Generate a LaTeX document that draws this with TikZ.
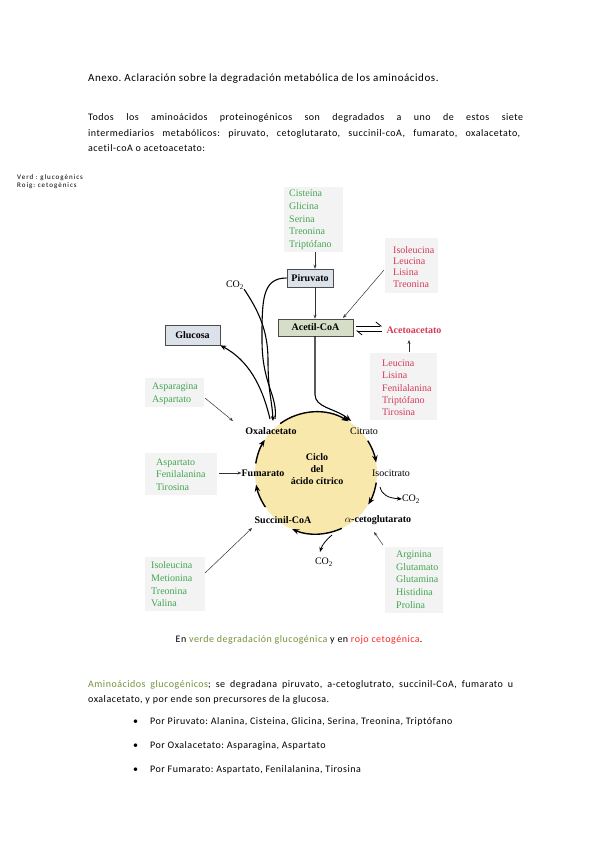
\documentclass[tikz,border=0pt]{standalone}
\usepackage{fontspec}
\setmainfont{Carlito}[Ligatures=NoCommon]
\newfontfamily\dfont{Liberation Serif}
\newfontfamily\bodyfont{Carlito}[LetterSpace=5,Ligatures=NoCommon]
\newfontfamily\titlefont{Carlito}[LetterSpace=5,Ligatures=NoCommon]
\newfontfamily\notefont{Carlito}[LetterSpace=14,Ligatures=NoCommon]
\usetikzlibrary{arrows.meta,calc}
\definecolor{gtext}{RGB}{66,166,80}
\definecolor{rtext}{RGB}{212,58,88}
\definecolor{capgreen}{RGB}{118,146,60}
\definecolor{capred}{RGB}{255,40,40}
\definecolor{boxbg}{RGB}{243,243,243}
\definecolor{pirfill}{RGB}{220,226,234}
\definecolor{acefill}{RGB}{214,222,200}
\definecolor{cycfill}{RGB}{249,232,172}
\begin{document}
\frenchspacing
\begin{tikzpicture}[x=1pt,y=1pt,
  body/.style={anchor=base west,inner sep=0pt,font=\bodyfont\fontsize{10}{12}\selectfont},
  gblock/.style={anchor=north west,inner sep=0pt,align=left,text=gtext,font=\dfont\fontsize{10}{12.7}\selectfont},
  rblock/.style={gblock,text=rtext},
  keybox/.style={draw=black!70,line width=0.6pt,inner sep=0pt,font=\dfont\bfseries\fontsize{10}{11}\selectfont},
  ringlab/.style={inner sep=0pt,font=\dfont\fontsize{10}{11}\selectfont},
  ringbold/.style={ringlab,font=\dfont\bfseries\fontsize{10}{11}\selectfont},
  thinarr/.style={draw=black!80,line width=0.5pt,-{Stealth[length=4pt,width=3pt]}},
  cyc/.style={line width=1.4pt,-{Stealth[length=7pt,width=5.5pt]}},
  curv/.style={line width=1.1pt},
  bgpatch/.style={fill=boxbg},
  harp/.style={line width=0.8pt,-{Straight Barb[harpoon,length=5pt,width=8pt]}}
]
\useasboundingbox[fill=white] (0,0) rectangle (599,-848);

% ---------- header text ----------
\node[anchor=base west,inner sep=0pt,font=\titlefont\fontsize{11}{13}\selectfont] (title) at (88,-82)
  {Anexo. Aclaración sobre la degradación metabólica de los aminoácidos.};
\node[body] (p1a) at (88,-121) {\makebox[435pt][s]{Todos los aminoácidos proteinogénicos son degradados a uno de estos siete}};
\node[body] (p1b) at (88,-136) {\makebox[432pt][s]{intermediarios metabólicos: piruvato, cetoglutarato, succinil-coA, fumarato, oxalacetato,}};
\node[body] (p1c) at (88,-151) {acetil-coA o acetoacetato:};

\node[anchor=base west,inner sep=0pt,font=\notefont\fontsize{7}{8}\selectfont] (verd) at (17,-179) {Verd : glucogènics};
\node[anchor=base west,inner sep=0pt,font=\notefont\fontsize{7}{8}\selectfont] (roig) at (17,-187) {Roig: cetogènics};

% ---------- background patches ----------
\fill[bgpatch] (284,-187) rectangle (343,-252);
\fill[bgpatch] (385,-238) rectangle (438,-293);
\fill[bgpatch] (370,-353) rectangle (437,-420);
\fill[bgpatch] (145,-378) rectangle (204,-407);
\fill[bgpatch] (145,-453) rectangle (217,-495);
\fill[bgpatch] (145,-557) rectangle (205,-611);
\fill[bgpatch] (385,-547) rectangle (443,-613);

% ---------- amino acid blocks ----------
\node[gblock] (aaPir) at (289,-189.5) {Cisteína\\Glicina\\Serina\\Treonina\\Triptófano};
\node[rblock,font=\dfont\fontsize{10}{11.3}\selectfont] (aaAc) at (393,-246) {Isoleucina\\Leucina\\Lisina\\Treonina};
\node[rblock,font=\dfont\fontsize{10}{12.4}\selectfont] (aaAa) at (382,-359.5) {Leucina\\Lisina\\Fenilalanina\\Triptófano\\Tirosina};
\node[gblock,font=\dfont\fontsize{10}{13}\selectfont] (aaOx) at (152,-382.5) {Asparagina\\Aspartato};
\node[gblock,font=\dfont\fontsize{10}{12.5}\selectfont] (aaFu) at (156,-458.5) {Aspartato\\Fenilalanina\\Tirosina};
\node[gblock] (aaSu) at (151,-561.5) {Isoleucina\\Metionina\\Treonina\\Valina};
\node[gblock,font=\dfont\fontsize{10}{12.8}\selectfont] (aaKg) at (396,-550.5) {Arginina\\Glutamato\\Glutamina\\Histidina\\Prolina};

% ---------- key boxes ----------
\node[keybox,fill=pirfill,minimum width=46pt,minimum height=18pt] (pir) at (310,-278) {Piruvato};
\node[keybox,fill=acefill,minimum width=75pt,minimum height=17pt] (ace) at (315.5,-327.5) {Acetil-CoA};
\node[keybox,fill=pirfill,minimum width=55pt,minimum height=20pt] (glu) at (192.5,-335) {Glucosa};
\node[ringbold,text=rtext] (aceto) at (414,-330) {Acetoacetato};
\node[ringlab] (co2a) at (235,-285) {CO\textsubscript{2}};

% ---------- cycle ----------
\node[circle,fill=cycfill,minimum size=122pt,inner sep=0pt] (ring) at (316,-473) {};
\node[ringbold,align=center,font=\dfont\bfseries\fontsize{10}{11.8}\selectfont] (ciclo) at (317,-469) {Ciclo\\del\\ácido cítrico};
\node[ringbold] (oxa) at (271,-431) {Oxalacetato};
\node[ringlab] (cit) at (364,-431) {Citrato};
\node[ringbold] (fum) at (263,-473) {Fumarato};
\node[ringlab] (iso) at (391,-473) {Isocitrato};
\node[ringbold] (suc) at (283,-520) {Succinil-CoA};
\node[ringbold] (akg) at (378,-520) {$\alpha$-cetoglutarato};
\node[ringlab] (co2b) at (411,-499) {CO\textsubscript{2}};
\node[ringlab] (co2c) at (324,-562) {CO\textsubscript{2}};

\draw[cyc] ($(ring.center)+(126:61pt)$) arc[start angle=126,end angle=58,radius=61pt];
\draw[cyc] ($(ring.center)+(32:61pt)$) arc[start angle=32,end angle=10,radius=61pt];
\draw[cyc] ($(ring.center)+(-9:61pt)$) arc[start angle=-9,end angle=-31,radius=61pt];
\draw[cyc] ($(ring.center)+(-65:61pt)$) arc[start angle=-65,end angle=-113,radius=61pt];
\draw[cyc] ($(ring.center)+(-146:61pt)$) arc[start angle=-146,end angle=-169,radius=61pt];
\draw[cyc] ($(ring.center)+(171:61pt)$) arc[start angle=171,end angle=147,radius=61pt];

% ---------- connectors ----------
\coordinate (t1) at (315,-252);
\draw[thinarr] (t1) -- (t1 |- pir.north);
\draw[thinarr,line width=0.7pt] (t1 |- pir.south) -- (t1 |- ace.north);
\coordinate (t2) at (384,-270);
\draw[thinarr] (t2) -- (343,-318);
\coordinate (t3) at (409,-352);
\draw[thinarr] (t3) -- (409,-340);
\coordinate (t4) at (205,-398);
\draw[thinarr] (t4) -- (233,-421);
\coordinate (t5) at (219,-473);
\draw[thinarr] (t5) -- (fum.west);
\coordinate (t6) at (205,-573);
\draw[thinarr] (t6) -- (252,-528);
\coordinate (t7) at (383,-545);
\draw[thinarr] (t7) -- (374,-532);

% acetoacetato equilibrium harpoons
\coordinate (h1) at (356,-326);
\coordinate (h2) at (382,-331);
\draw[harp] (h1) -- (h2 |- h1);
\draw[harp] (h2) -- (h1 |- h2);

% acetil-CoA into citrate
\draw[curv,-{Stealth[length=7pt,width=5.5pt]}] (t1 |- ace.south) -- ++(0,-58) .. controls (315,-408) and (335,-408) .. (351,-421);
% piruvato -> oxalacetato, with CO2
\draw[curv] (pir.west) .. controls (262,-278) and (262,-300) .. (262,-340) .. controls (262,-385) and (278,-395) .. (275,-419);
\draw[curv,-{Stealth[length=5pt,width=4pt]}] (co2a.south east) .. controls (258,-310) and (268,-330) .. (268,-360) .. controls (268,-392) and (272,-400) .. (273,-421);
% oxalacetato -> glucosa
\draw[curv,-{Stealth[length=6pt,width=5pt]}] (270,-419) .. controls (262,-385) and (248,-360) .. (glu.south east);
% CO2 releases
\draw[line width=0.8pt,-{Stealth[length=5pt,width=4pt]}] (380,-487) .. controls (382,-495) and (388,-498) .. (co2b.west);
\draw[line width=0.8pt,-{Stealth[length=5pt,width=4pt]}] (332,-535) .. controls (326,-540) and (322,-545) .. (320,-552);

% ---------- footer text ----------
\node[anchor=base,inner sep=0pt,font=\bodyfont\fontsize{10}{12}\selectfont] (cap) at (299,-642)
  {En \textcolor{capgreen}{verde degradación glucogénica} y en \textcolor{capred}{rojo cetogénica}.};
\node[body] (p2a) at (88,-687) {\makebox[425pt][s]{\textcolor{capgreen}{Aminoácidos glucogénicos}; se degradana piruvato, a-cetoglutrato, succinil-CoA, fumarato u}};
\node[body] (p2b) at (88,-702) {oxalacetato, y por ende son precursores de la glucosa.};
\node[body] (bu1) at (133,-724) {\textbullet};
\node[body] (bu2) at (133,-748) {\textbullet};
\node[body] (bu3) at (133,-772) {\textbullet};
\node[body] (l1) at (150,-724) {Por Piruvato: Alanina, Cisteina, Glicina, Serina, Treonina, Triptófano};
\node[body] (l2) at (150,-748) {Por Oxalacetato: Asparagina, Aspartato};
\node[body] (l3) at (150,-772) {Por Fumarato: Aspartato, Fenilalanina, Tirosina};
\end{tikzpicture}
\end{document}
